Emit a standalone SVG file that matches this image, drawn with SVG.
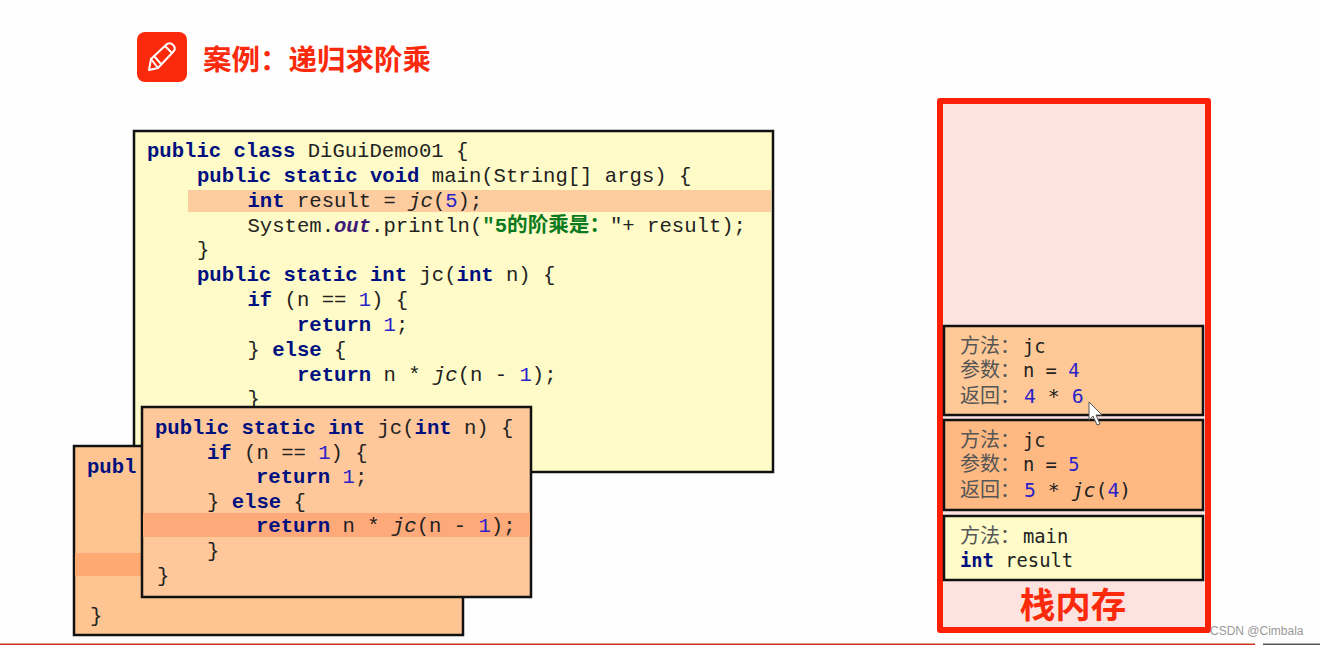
<svg xmlns="http://www.w3.org/2000/svg" width="1320" height="645" viewBox="0 0 1320 645">
<style>
.c{font-family:"Liberation Mono","Noto Sans CJK SC",monospace;font-size:20.6px;fill:#222;white-space:pre}
.k{font-weight:bold;fill:#00107f}
.n{fill:#2a1fc8}
.i{font-style:italic}
.o{font-style:italic;font-weight:bold;fill:#3c1a78}
.g{fill:#0b7a1e;font-weight:bold}
.box{stroke:#111;stroke-width:2.5}
.s{font-family:"DejaVu Sans Mono","Noto Sans CJK SC",monospace;font-size:18.8px;fill:#222;white-space:pre}
.r{font-size:19.8px}
.z{font-size:20px;fill:#555}
.h{font-family:"Noto Sans CJK SC",sans-serif;font-weight:700;fill:#fb2a0c}
</style>
<rect width="1320" height="645" fill="#fefefe"/>
<g id="title">
<rect x="137" y="32" width="50" height="50" rx="8" fill="#fb2a0c"/>
<g fill="none" stroke="#fff" stroke-width="2" stroke-linejoin="round" stroke-linecap="round">
<path d="M149 70 L151 59 L167 44 Q171 42 174 46 Q176 49 173 52 L158 68 Z"/>
<path d="M151 59 L158 68 M154 56 L161 64 M165 46 L172 53"/>
</g>
<text class="h" x="203" y="70" font-size="28.500">案例：递归求阶乘</text>
</g>
<g id="main-code">
<rect class="box" x="134" y="131" width="639" height="341" fill="#fefbc8"/>
<rect x="188" y="190" width="583" height="22" fill="#fdcda0"/>
<text class="c" x="147" y="157"><tspan class="k">public class</tspan> DiGuiDemo01 {</text>
<text class="c" x="197" y="182"><tspan class="k">public static void</tspan> main(String[] args) {</text>
<text class="c" x="247.500" y="207"><tspan class="k">int</tspan> result = <tspan class="i">jc</tspan>(<tspan class="n">5</tspan>);</text>
<text class="c" x="247.500" y="232">System.<tspan class="o">out</tspan>.println(<tspan class="g">"5的阶乘是：</tspan>"+ result);</text>
<text class="c" x="197" y="256">}</text>
<text class="c" x="197" y="281"><tspan class="k">public static int</tspan> jc(<tspan class="k">int</tspan> n) {</text>
<text class="c" x="247.500" y="306"><tspan class="k">if</tspan> (n == <tspan class="n">1</tspan>) {</text>
<text class="c" x="297" y="331"><tspan class="k">return</tspan> <tspan class="n">1</tspan>;</text>
<text class="c" x="247.500" y="356">} <tspan class="k">else</tspan> {</text>
<text class="c" x="297" y="381"><tspan class="k">return</tspan> n * <tspan class="i">jc</tspan>(n - <tspan class="n">1</tspan>);</text>
<text class="c" x="247.500" y="405">}</text>
</g>
<g id="jc-frame-5">
<rect class="box" x="74" y="446" width="389" height="189" fill="#fec593"/>
<rect x="75" y="553" width="387" height="23" fill="#fea872"/>
<text class="c" x="87" y="473"><tspan class="k">publ</tspan></text>
<text class="c" x="90" y="622">}</text>
</g>
<g id="jc-frame-4">
<rect class="box" x="142" y="407" width="389" height="190" fill="#fec89b"/>
<rect x="143" y="513" width="387" height="24" fill="#fea97a"/>
<text class="c" x="155" y="434"><tspan class="k">public static int</tspan> jc(<tspan class="k">int</tspan> n) {</text>
<text class="c" x="207" y="459"><tspan class="k">if</tspan> (n == <tspan class="n">1</tspan>) {</text>
<text class="c" x="256" y="483"><tspan class="k">return</tspan> <tspan class="n">1</tspan>;</text>
<text class="c" x="207" y="508">} <tspan class="k">else</tspan> {</text>
<text class="c" x="256" y="532"><tspan class="k">return</tspan> n * <tspan class="i">jc</tspan>(n - <tspan class="n">1</tspan>);</text>
<text class="c" x="207" y="557">}</text>
<text class="c" x="157" y="582">}</text>
</g>
<g id="stack">
<rect x="940" y="101" width="268" height="529" fill="#fde3e0" stroke="#fb2006" stroke-width="6" stroke-linejoin="round"/>
<text class="h" x="1073" y="618" font-size="35.500" text-anchor="middle">栈内存</text>
</g>
<g id="stack-frame-jc4">
<rect class="box" x="944" y="326" width="259" height="89" fill="#fec997"/>
<text class="s" x="960" y="353"><tspan class="z">方法：</tspan><tspan x="1023">jc</tspan></text>
<text class="s" x="960" y="377"><tspan class="z">参数：</tspan><tspan x="1023">n = </tspan><tspan class="n">4</tspan></text>
<text class="s r" x="960" y="403"><tspan class="z">返回：</tspan><tspan x="1024" class="n">4</tspan> * <tspan class="n">6</tspan></text>
</g>
<g id="stack-frame-jc5">
<rect class="box" x="944" y="420" width="259" height="90" fill="#feb983"/>
<text class="s" x="960" y="447"><tspan class="z">方法：</tspan><tspan x="1023">jc</tspan></text>
<text class="s" x="960" y="471"><tspan class="z">参数：</tspan><tspan x="1023">n = </tspan><tspan class="n">5</tspan></text>
<text class="s r" x="960" y="497"><tspan class="z">返回：</tspan><tspan x="1024" class="n">5</tspan> * <tspan class="i">jc</tspan>(<tspan class="n">4</tspan>)</text>
</g>
<g id="stack-frame-main">
<rect class="box" x="944" y="516" width="259" height="64" fill="#fefbc8"/>
<text class="s" x="960" y="543"><tspan class="z">方法：</tspan><tspan x="1023">main</tspan></text>
<text class="s" x="960" y="567"><tspan class="k">int</tspan> result</text>
</g>
<g id="cursor">
<path d="M1089 402 V420 L1093 416 L1097 425 L1100 424 L1096 415 L1102 415 Z" fill="#fff" stroke="#555" stroke-width="1"/>
</g>
<g id="footer">
<text x="1210" y="635" font-family="Liberation Sans,sans-serif" font-size="12" fill="#999">CSDN @Cimbala</text>
<rect x="0" y="643.500" width="1255" height="1.500" fill="#c8321e"/>
<rect x="1263" y="643.500" width="57" height="1.500" fill="#555"/>
</g>
</svg>
